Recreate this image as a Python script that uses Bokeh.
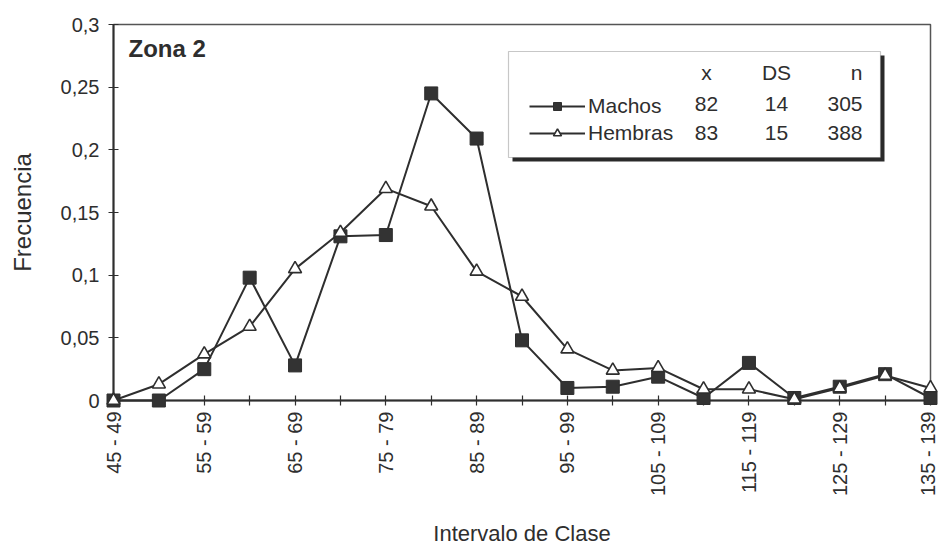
import math
from bokeh.plotting import figure
from bokeh.models import (FixedTicker, Legend, LegendItem, Label, BoxAnnotation, Range1d)
from bokeh.embed import file_html
from bokeh.resources import INLINE

categories = ["45 - 49", "50 - 54", "55 - 59", "60 - 64", "65 - 69", "70 - 74",
              "75 - 79", "80 - 84", "85 - 89", "90 - 94", "95 - 99", "100 - 104",
              "105 - 109", "110 - 114", "115 - 119", "120 - 124", "125 - 129",
              "130 - 134", "135 - 139"]
machos = [0.0, 0.0, 0.025, 0.098, 0.028, 0.131, 0.132, 0.245, 0.209, 0.048,
          0.010, 0.011, 0.019, 0.002, 0.030, 0.002, 0.011, 0.021, 0.002]
hembras = [0.0, 0.013, 0.037, 0.059, 0.105, 0.134, 0.169, 0.155, 0.103, 0.083,
           0.041, 0.024, 0.026, 0.009, 0.009, 0.001, 0.010, 0.020, 0.010]
y_ticks = [0, 0.05, 0.1, 0.15, 0.2, 0.25, 0.3]
y_tick_labels = ["0", "0,05", "0,1", "0,15", "0,2", "0,25", "0,3"]
stats_header = ["x", "DS", "n"]
stats_machos = ["82", "14", "305"]
stats_hembras = ["83", "15", "388"]

FONT = "Liberation Sans"
INK = "#2e2e2e"

xs = list(range(len(categories)))

p = figure(width=938, height=548, output_backend="svg", toolbar_location=None,
           x_range=Range1d(0, len(categories) - 1), y_range=Range1d(0, 0.3),
           min_border_left=113, min_border_right=8, min_border_top=24,
           min_border_bottom=148)
p.frame_width = 817
p.frame_height = 376
p.grid.visible = False
p.outline_line_color = "#555555"
p.outline_line_width = 1.5
p.background_fill_color = "white"
p.border_fill_color = "white"

# axes
p.yaxis.ticker = FixedTicker(ticks=y_ticks)
p.yaxis.major_label_overrides = {t: l for t, l in zip(y_ticks, y_tick_labels)}
p.xaxis.ticker = FixedTicker(ticks=xs)
p.xaxis.major_label_overrides = {i: (c if i % 2 == 0 else "") for i, c in enumerate(categories)}
p.xaxis.major_label_orientation = math.pi / 2
for ax in (p.xaxis[0], p.yaxis[0]):
    ax.axis_line_color = INK
    ax.axis_line_width = 2
    ax.major_tick_line_color = INK
    ax.major_tick_line_width = 1.2
    ax.major_tick_in = 5
    ax.major_tick_out = 5
    ax.minor_tick_line_color = None
    ax.major_label_text_font = FONT
    ax.major_label_text_font_size = "20px"
    ax.major_label_text_color = INK
    ax.axis_label_text_font = FONT
    ax.axis_label_text_font_style = "normal"
    ax.axis_label_text_color = INK
p.yaxis.axis_label = "Frecuencia"
p.yaxis.axis_label_text_font_size = "24px"
p.yaxis.axis_label_standoff = 22
p.yaxis.major_label_standoff = 9
p.xaxis.axis_label = "Intervalo de Clase"
p.xaxis.axis_label_text_font_size = "22px"
p.xaxis.axis_label_standoff = 22
p.xaxis.major_label_standoff = 6

# series
lm = p.line(xs, machos, line_color=INK, line_width=2, level="overlay")
sm = p.scatter(xs, machos, marker="square", size=13, fill_color="#333333",
               line_color=INK, line_width=1, level="overlay")
lh = p.line(xs, hembras, line_color=INK, line_width=2, level="overlay")
sh = p.scatter(xs, hembras, marker="triangle", size=13, fill_color="white",
               line_color=INK, line_width=1.6, level="overlay")

# legend box with shadow
shadow = BoxAnnotation(left=399, right=771, bottom=239, top=345,
                       left_units="screen", right_units="screen",
                       bottom_units="screen", top_units="screen",
                       fill_color="#2a2a2a", fill_alpha=1, line_color=None, level="overlay")
box = BoxAnnotation(left=395, right=767, bottom=243, top=349,
                    left_units="screen", right_units="screen",
                    bottom_units="screen", top_units="screen",
                    fill_color="white", fill_alpha=1, line_color="#444444",
                    line_width=1.2, level="overlay")
p.add_layout(shadow)
p.add_layout(box)

legend = Legend(items=[LegendItem(label="Machos", renderers=[lm, sm]),
                       LegendItem(label="Hembras", renderers=[lh, sh])],
                location=(416, 255), orientation="vertical",
                glyph_width=56, glyph_height=20, label_height=20, spacing=3,
                label_standoff=3, padding=0, margin=0,
                border_line_color=None, background_fill_alpha=0,
                label_text_font=FONT, label_text_font_size="21px",
                label_text_color=INK)
p.add_layout(legend, "center")

# stats columns
col_x = [593, 663, 749]
col_align = ["center", "center", "right"]
for row_y, texts in ((328, stats_header), (297, stats_machos), (268, stats_hembras)):
    for cx, al, t in zip(col_x, col_align, texts):
        p.add_layout(Label(x=cx, y=row_y, x_units="screen", y_units="screen", text=t,
                           text_align=al, text_baseline="middle", text_font=FONT,
                           text_font_size="21px", text_color=INK, level="overlay"))

p.add_layout(Label(x=15, y=352, x_units="screen", y_units="screen", text="Zona 2",
                   text_align="left", text_baseline="middle", text_font=FONT,
                   text_font_size="24px", text_font_style="bold", text_color=INK))

open("out.html", "w").write(file_html(p, INLINE))
